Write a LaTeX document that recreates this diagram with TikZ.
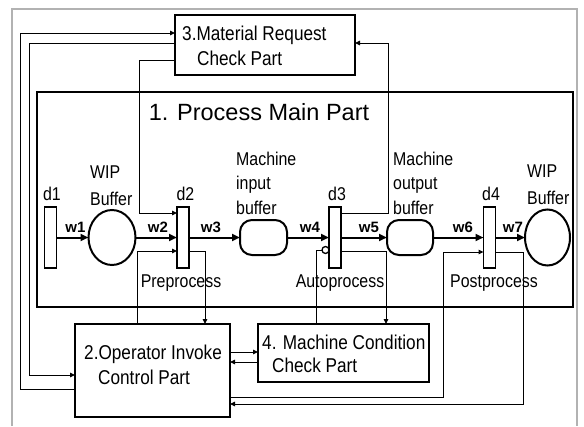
\documentclass[tikz,border=0pt]{standalone}
\usepackage{fontspec}
\setmainfont{Liberation Sans}
\newfontfamily\cond[FakeStretch=0.86]{Liberation Sans}
\usetikzlibrary{arrows.meta,shapes.geometric}
\begin{document}
\begin{tikzpicture}[x=1pt,y=-1pt,
  box/.style={draw, line width=1.8pt, inner sep=0pt, outer sep=0pt},
  boxtxt/.style={font=\cond\fontsize{20}{24.5}\selectfont, align=left, inner sep=0pt, anchor=west},
  trans/.style={draw, line width=1.7pt, minimum width=12pt, minimum height=61pt, inner sep=0pt, outer sep=0pt, fill=white},
  place/.style={draw, ellipse, line width=2pt, inner sep=0pt, outer sep=0pt},
  buf/.style={draw, rounded corners=12pt, line width=2pt, minimum width=47pt, minimum height=35pt, inner sep=0pt, outer sep=0pt},
  flow/.style={line width=2pt, -{Triangle[length=8pt,width=7pt]}},
  conn/.style={line width=1pt, -{Triangle[length=5pt,width=4.5pt]}},
  plain/.style={line width=1pt},
  lbl/.style={font=\cond\fontsize{18.5}{24.5}\selectfont, inner sep=0pt, align=left},
  wl/.style={font=\fontsize{15}{15}\selectfont, inner sep=0pt, anchor=base}
]
\useasboundingbox (0,0) rectangle (584,426);
\draw[black!30, line width=1.5pt] (12,426) -- (12,9) -- (577,9) -- (577,426);

% main part
\node[box, line width=2pt, minimum width=536pt, minimum height=215pt] (main) at (305,199.5) {};
\node[font=\fontsize{23.5}{28}\selectfont, inner sep=0pt] (title) at (259,112) {1. Process Main Part};

% boxes
\node[box, fill=white, minimum width=180pt, minimum height=60pt] (b3) at (265,45) {};
\node[boxtxt, font=\cond\fontsize{20}{25}\selectfont] (b3t) at (182,45.5) {3.Material Request\\\hspace*{15pt}Check Part};
\node[box, minimum width=155pt, minimum height=93pt] (b2) at (152.5,370.5) {};
\node[boxtxt] (b2t) at (84,365) {2.Operator Invoke\\\hspace*{14pt}Control Part};
\node[box, minimum width=171pt, minimum height=58pt] (b4) at (343.5,353) {};
\node[boxtxt, font=\cond\fontsize{20}{23}\selectfont] (b4t) at (262,353.5) {4. Machine Condition\\\hspace*{10pt}Check Part};

% net
\node[trans] (d1) at (50.5,237.5) {};
\node[trans] (d2) at (183,237.5) {};
\node[trans] (d3) at (335,237.5) {};
\node[trans] (d4) at (489.5,237.5) {};
\node[place, minimum width=47pt, minimum height=55pt] (p1) at (112,237.5) {};
\node[place, minimum width=45pt, minimum height=56pt] (p2) at (547.5,237.5) {};
\node[buf] (m1) at (263.5,237.5) {};
\node[buf, minimum width=46pt] (m2) at (410,237.5) {};

% labels
\node[lbl] (ld1) at (52,194) {d1};
\node[lbl] (ld2) at (185.5,194) {d2};
\node[lbl] (ld3) at (337,194) {d3};
\node[lbl] (ld4) at (491,194) {d4};
\node[lbl, anchor=west, font=\cond\fontsize{18.5}{27}\selectfont] (wip1) at (90,185.5) {WIP\\Buffer};
\node[lbl, anchor=west, font=\cond\fontsize{18.5}{27}\selectfont] (wip2) at (527,185) {WIP\\Buffer};
\node[lbl, anchor=west] (mib) at (236,183) {Machine\\input\\buffer};
\node[lbl, anchor=west] (mob) at (393,183) {Machine\\output\\buffer};
\node[lbl] (pre) at (181,283) {Preprocess};
\node[lbl] (auto) at (340,283) {Autoprocess};
\node[lbl] (post) at (494,283) {Postprocess};

\node[wl] (w1) at (75.5,232) {$\mathbf{w1}$};
\node[wl] (w2) at (158,232) {$\mathbf{w2}$};
\node[wl] (w3) at (211,232) {$\mathbf{w3}$};
\node[wl] (w4) at (310,232) {$\mathbf{w4}$};
\node[wl] (w5) at (369,232) {$\mathbf{w5}$};
\node[wl] (w6) at (463,232) {$\mathbf{w6}$};
\node[wl] (w7) at (513,232) {$\mathbf{w7}$};

% flows
\draw[flow] (d1) -- (p1);
\draw[flow] (p1) -- (d2);
\draw[flow] (d2) -- (m1);
\draw[flow] (m1) -- (d3);
\draw[flow] (d3) -- (m2);
\draw[flow] (m2) -- (d4);
\draw[flow] (d4) -- (p2);

% inhibitor circle
\node[circle, draw, line width=1.3pt, minimum size=7pt, inner sep=0pt, outer sep=0pt] (inh) at (325.5,250) {};

% control connectors
\draw[conn] (b2.west |- 0,389) -- (20,389) -- (20,33) -- (b3.west |- 0,33);
\draw[conn] (b3.west |- 0,43) -- (29,43) -- (29,375) -- (b2.west |- 0,375);
\draw[conn] (b3.west |- 0,60) -- (139,60) -- (139,213) -- (d2.west |- 0,213);
\draw[conn] (d3.east |- 0,213) -- (388,213) -- (388,43) -- (b3.east |- 0,43);
\draw[conn] (b2.north -| 137,0) -- (137,251) -- (d2.west |- 0,251);
\draw[conn] (d2.east |- 0,251) -- (205,251) -- (b2.north -| 205,0);
\draw[plain] (b4.north -| 316,0) -- (316,250) -- (inh.west);
\draw[conn] (d3.east |- 0,251) -- (386,251) -- (b4.north -| 386,0);
\draw[conn] (b2.east |- 0,397) -- (443,397) -- (443,252) -- (d4.west |- 0,252);
\draw[conn] (d4.east |- 0,252) -- (523,252) -- (523,404) -- (b2.east |- 0,404);
\draw[conn] (b2.east |- 0,352) -- (b4.west |- 0,352);
\draw[conn] (b4.west |- 0,362) -- (b2.east |- 0,362);
\end{tikzpicture}
\end{document}
